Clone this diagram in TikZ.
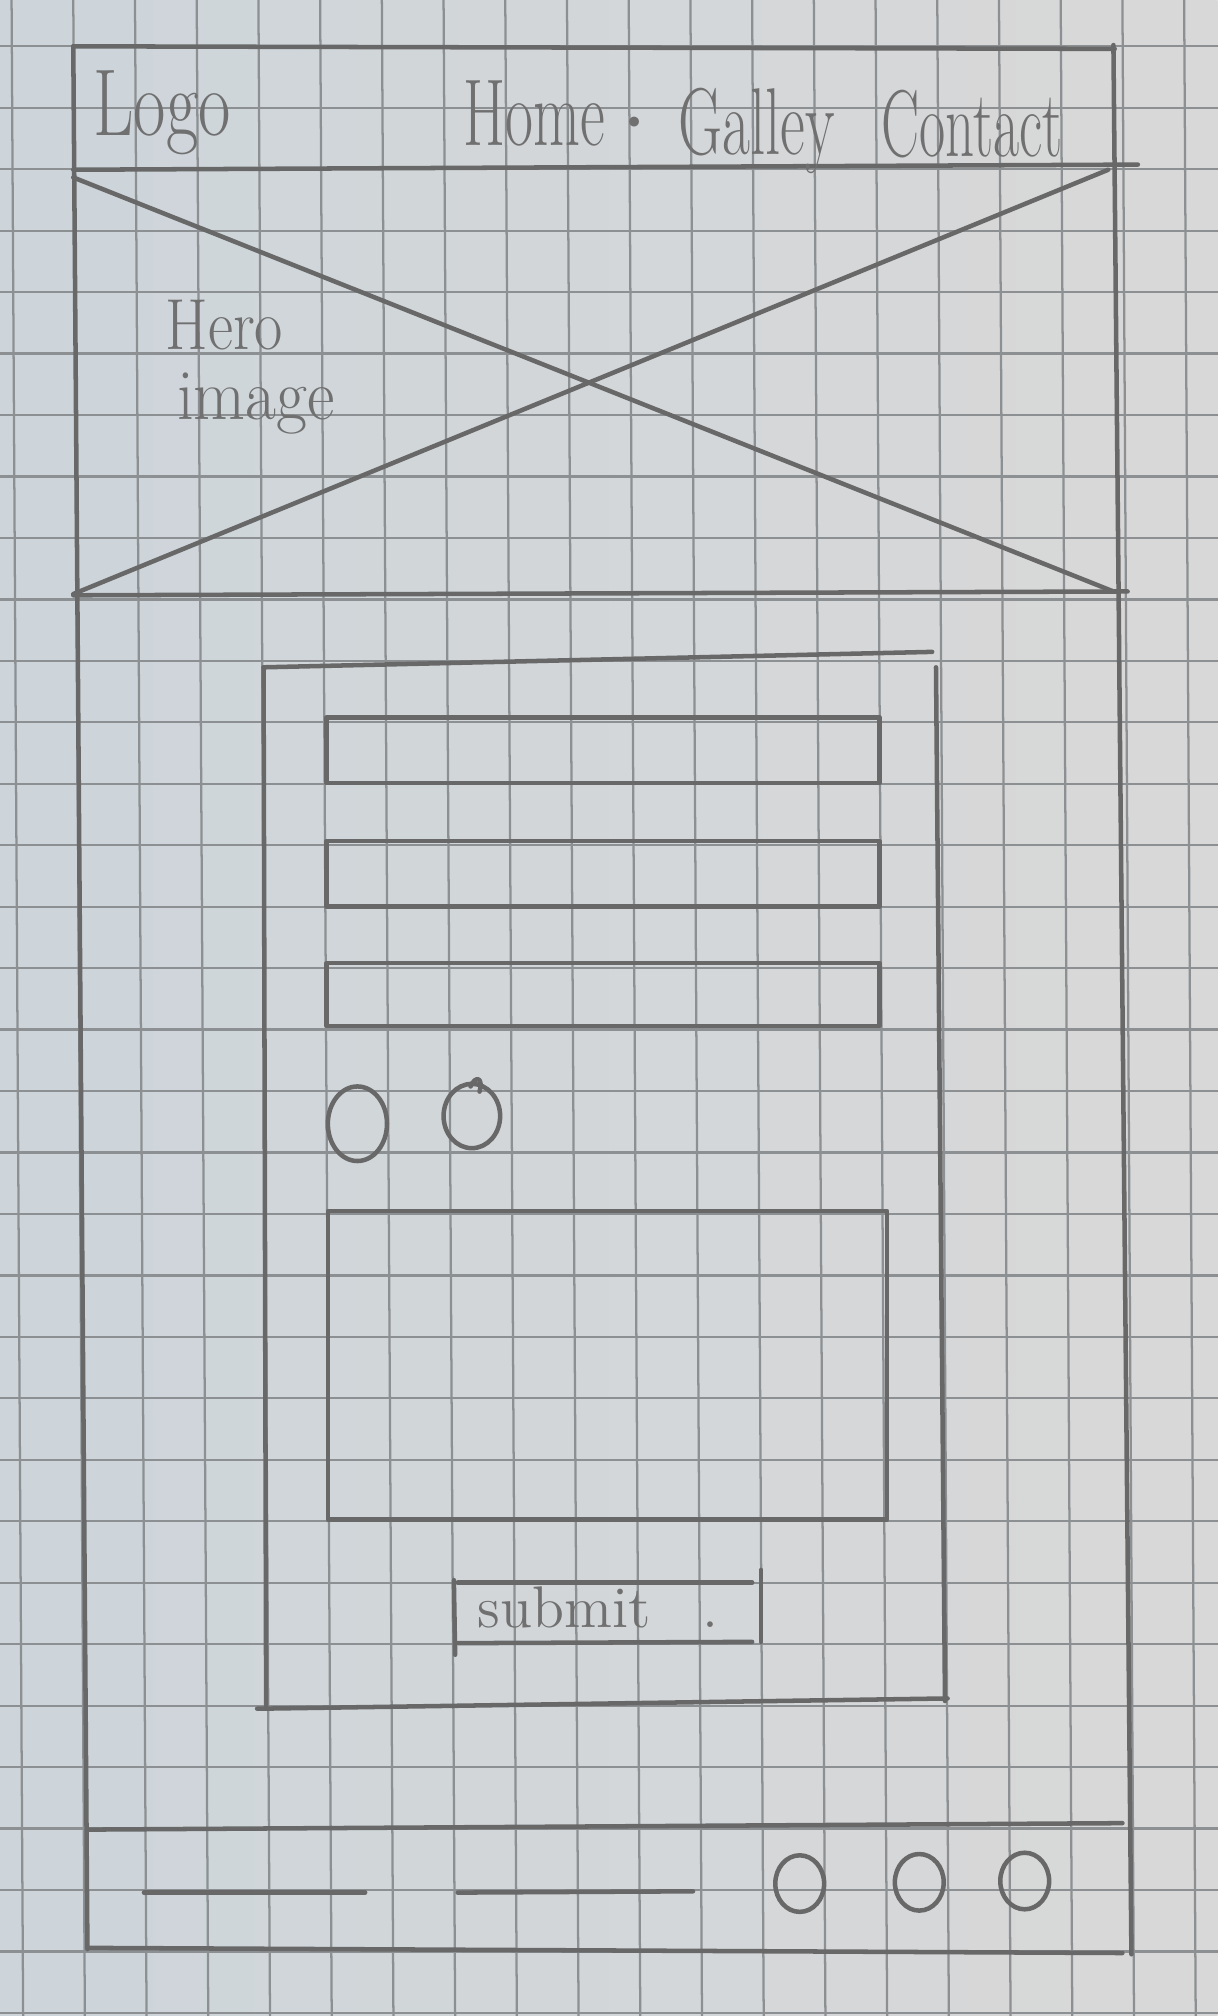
\documentclass[tikz,border=0pt]{standalone}
\usepackage{graphicx}
\usetikzlibrary{calc}
\definecolor{paperleft}{RGB}{205,213,218}
\definecolor{paperright}{RGB}{217,216,216}
\definecolor{gridline}{RGB}{140,144,146}
\definecolor{pencil}{RGB}{104,104,104}
\definecolor{pencillight}{RGB}{112,112,112}
\newcommand{\squeeze}[2]{\scalebox{#1}[1]{#2}}

\begin{document}
\begin{tikzpicture}[x=0.01cm, y=-0.01cm,
    pen/.style={pencil, line width=1pt, line cap=round, line join=round},
    hand/.style={pencillight, inner sep=0pt, anchor=base west}]
    % Paper
    \shade[left color=paperleft, right color=paperright] (0,0) rectangle (947,1568);
    \useasboundingbox (0,0) rectangle (947,1568);

    % Grid of the graph paper
    \foreach \k in {0,...,19}
      \draw[gridline, line width=0.5pt] ({9+48*\k},0) -- ({18+48*\k},1568);
    \foreach \k in {0,...,32}
      \draw[gridline, line width=0.5pt] (0,{36+47.8*\k}) -- (947,{36+47.8*\k});

    % Outer frame
    \draw[pen] (57,36) -- (867,38);
    \draw[pen] (57,36) -- (68,1516);
    \draw[pen] (866,35) -- (880,1520);

    % Header
    \draw[pen] (57,132) -- (885,128);
    \node[hand, font=\fontsize{21}{21}\selectfont] (logo) at (72,105) {\squeeze{0.74}{Logo}};
    \node[hand, font=\fontsize{21}{21}\selectfont] (home) at (360,113) {\squeeze{0.64}{Home}\,$\cdot$};
    \node[hand, font=\fontsize{21}{21}\selectfont] (gallery) at (527,120) {\squeeze{0.64}{Galley}};
    \node[hand, font=\fontsize{21}{21}\selectfont] (contact) at (685,122) {\squeeze{0.6}{Contact}};

    % Hero image
    \draw[pen] (57,138) -- (866,460);
    \draw[pen] (862,132) -- (57,462);
    \draw[pen] (57,463) -- (877,460);
    \node[hand, font=\fontsize{16}{16}\selectfont] (hero) at (128,272) {\squeeze{0.85}{Hero}};
    \node[hand, font=\fontsize{16}{16}\selectfont] (image) at (137,326) {\squeeze{0.93}{image}};

    % Form container
    \draw[pen] (205,519) -- (725,507);
    \draw[pen] (205,519) -- (207,1329);
    \draw[pen] (728,519) -- (735,1323);
    \draw[pen] (200,1329) -- (737,1321);

    % Input fields
    \draw[pen] (254,558) rectangle (684,609);
    \draw[pen] (254,654) rectangle (684,705);
    \draw[pen] (254,749) rectangle (684,798);

    % Radio buttons
    \draw[pen] (278,874) ellipse [x radius=23, y radius=29];
    \draw[pen] (367,868) ellipse [x radius=22, y radius=25];
    \draw[pen] (366,845) .. controls (370,836) and (376,838) .. (373,849);

    % Text area
    \draw[pen] (255,942) rectangle (690,1182);

    % Submit button
    \draw[pen] (356,1231) -- (585,1231);
    \draw[pen] (356,1278) -- (585,1277);
    \draw[pen] (353,1229) -- (354,1287);
    \draw[pen] (592,1221) -- (592,1277);
    \node[hand, font=\fontsize{13}{13}\selectfont] (submit) at (371,1266) {submit\hspace{0.4cm}.};

    % Footer
    \draw[pen] (69,1423) -- (873,1418);
    \draw[pen] (68,1515) -- (873,1519);
    \draw[pen] (112,1472) -- (284,1472);
    \draw[pen] (356,1472) -- (539,1471);
    \foreach \cx/\cy in {622/1465, 715/1464, 797/1463}
      \draw[pen] (\cx,\cy) ellipse [x radius=19, y radius=22];

  \end{tikzpicture}
\end{document}
